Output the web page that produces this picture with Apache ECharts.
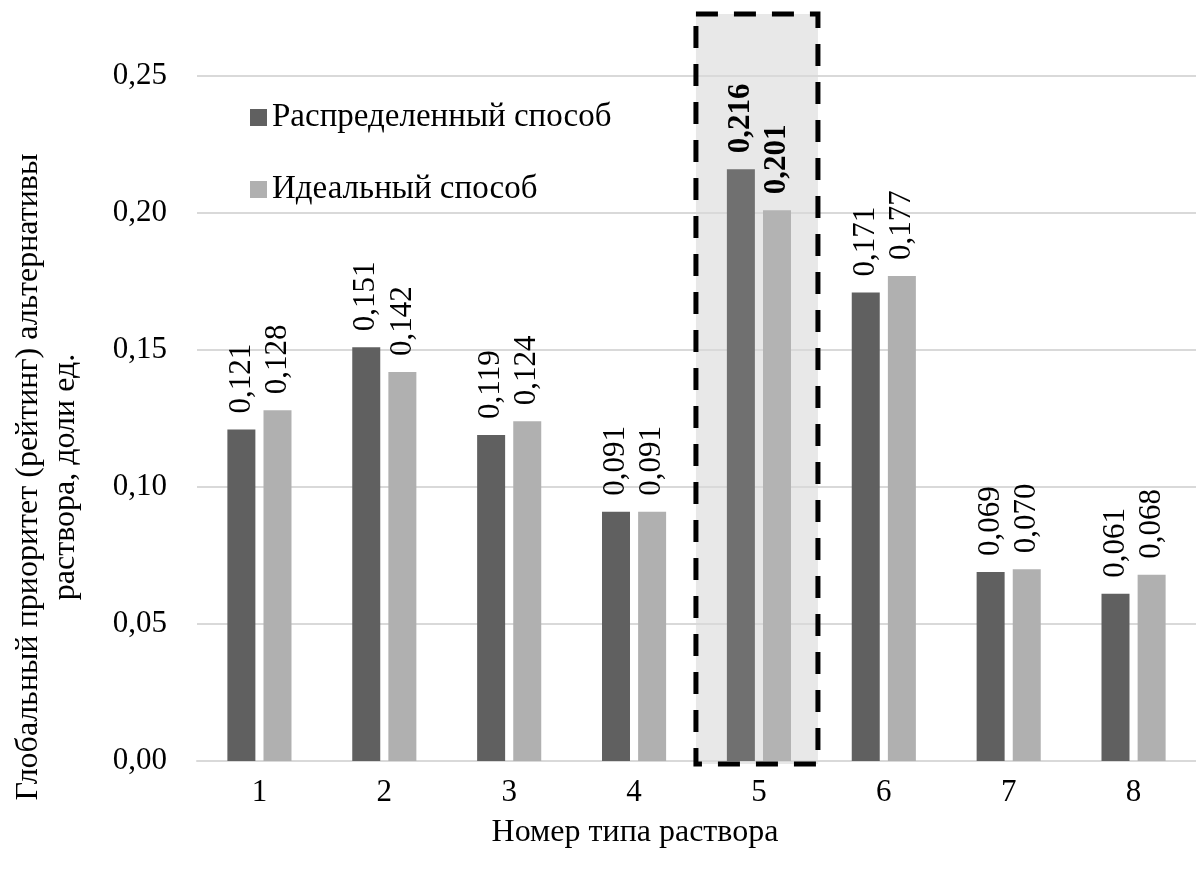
<!DOCTYPE html>
<html>
<head>
<meta charset="utf-8">
<script src="https://cdn.jsdelivr.net/npm/echarts@6/dist/echarts.min.js"></script>
<style>
  html, body { margin: 0; padding: 0; background: #fff; }
  #chart { width: 1196px; height: 875px; }
</style>
</head>
<body>
<div id="chart"></div>
<script>
const categories = ['1', '2', '3', '4', '5', '6', '7', '8']
const distributed = [0.121, 0.151, 0.119, 0.091, 0.216, 0.171, 0.069, 0.061]
const ideal = [0.128, 0.142, 0.124, 0.091, 0.201, 0.177, 0.070, 0.068]
const yTicks = [0, 0.05, 0.10, 0.15, 0.20, 0.25]
const highlightIndex = 4

const FONT = '"Liberation Serif", "Times New Roman", serif'
const fmt = v => v.toFixed(3).replace('.', ',')

const chart = echarts.init(document.getElementById('chart'))

const makeData = (values, hiColor) => values.map((v, i) => {
  if (i !== highlightIndex) return v
  return {
    value: v,
    itemStyle: { color: hiColor },
    label: { fontWeight: 'bold' }
  }
})

const labelStyle = {
  show: true,
  position: 'top',
  rotate: 90,
  align: 'left',
  verticalAlign: 'middle',
  distance: 16,
  fontFamily: FONT,
  fontSize: 31,
  color: '#000',
  formatter: p => fmt(p.value)
}

const option = {
  animation: false,
  textStyle: { fontFamily: FONT },
  grid: { left: 197, right: 0, top: 76, bottom: 114 },
  legend: {
    orient: 'vertical',
    left: 250,
    top: 101,
    padding: 0,
    itemWidth: 17,
    itemHeight: 17,
    itemGap: 39,
    icon: 'rect',
    textStyle: { fontFamily: FONT, fontSize: 33, color: '#000' },
    data: ['Распределенный способ', 'Идеальный способ']
  },
  xAxis: {
    type: 'category',
    data: categories,
    axisLine: { show: true, lineStyle: { color: '#d9d9d9', width: 2 } },
    axisTick: { show: false },
    axisLabel: { fontFamily: FONT, fontSize: 31, color: '#000', margin: 16 }
  },
  yAxis: {
    type: 'value',
    min: yTicks[0],
    max: yTicks[yTicks.length - 1],
    interval: 0.05,
    axisLine: { show: false },
    axisTick: { show: false },
    axisLabel: {
      fontFamily: FONT, fontSize: 31, color: '#000', margin: 30,
      formatter: v => v.toFixed(2).replace('.', ',')
    },
    splitLine: { lineStyle: { color: '#d9d9d9', width: 2 } }
  },
  series: [
    {
      name: 'Распределенный способ',
      type: 'bar',
      barWidth: 28,
      barGap: '29%',
      itemStyle: { color: '#606060' },
      label: labelStyle,
      data: makeData(distributed, '#707070')
    },
    {
      name: 'Идеальный способ',
      type: 'bar',
      barWidth: 28,
      itemStyle: { color: '#b0b0b0' },
      label: labelStyle,
      data: makeData(ideal, '#b3b3b3')
    }
  ]
}

chart.setOption(option)

// highlight box around category 5, sized from the axes
const cx = chart.convertToPixel({ xAxisIndex: 0 }, categories[highlightIndex])
const yTop = chart.convertToPixel({ yAxisIndex: 0 }, yTicks[yTicks.length - 1])
const yZero = chart.convertToPixel({ yAxisIndex: 0 }, 0)
const boxLeft = cx - 63
const boxRight = cx + 59
const boxTop = yTop - 62
const boxBottom = yZero + 3

chart.setOption({
  graphic: [
    {
      type: 'rect',
      z: -10,
      silent: true,
      shape: { x: boxLeft, y: boxTop, width: boxRight - boxLeft, height: boxBottom - boxTop },
      style: { fill: '#e8e8e8' }
    },
    {
      type: 'rect',
      z: 100,
      silent: true,
      shape: { x: boxLeft, y: boxTop, width: boxRight - boxLeft, height: boxBottom - boxTop },
      style: { fill: null, stroke: '#000', lineWidth: 5, lineDash: [22, 16] }
    },
    {
      type: 'text',
      x: 47,
      y: 477,
      rotation: Math.PI / 2,
      style: {
        text: 'Глобальный приоритет (рейтинг) альтернативы\nраствора, доли ед.',
        font: '32px ' + FONT,
        fill: '#000',
        align: 'center',
        verticalAlign: 'middle',
        lineHeight: 37
      }
    },
    {
      type: 'text',
      x: 635,
      y: 833,
      style: {
        text: 'Номер типа раствора',
        font: '32px ' + FONT,
        fill: '#000',
        align: 'center',
        verticalAlign: 'middle'
      }
    }
  ]
})
</script>
</body>
</html>
